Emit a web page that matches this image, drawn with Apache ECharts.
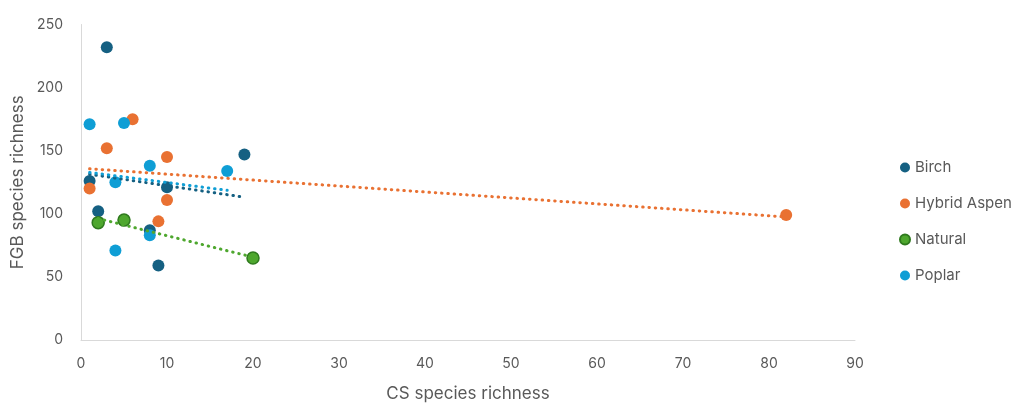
<!DOCTYPE html>
<html><head><meta charset="utf-8">
<script src="https://cdn.jsdelivr.net/npm/echarts@6/dist/echarts.min.js"></script>
<style>html,body{margin:0;padding:0;background:#fff;overflow:hidden}#c{width:1015px;height:407px}</style>
</head><body><div id="c"></div>
<script>
const seriesNames = ['Birch', 'Hybrid Aspen', 'Natural', 'Poplar'];
const birchX = [3, 1, 2, 8, 9, 10, 19];
const birchY = [232, 126, 102, 87, 59, 121, 147];
const aspenX = [6, 3, 10, 1, 10, 9, 82];
const aspenY = [175, 152, 145, 120, 111, 94, 99];
const naturalX = [2, 5, 20];
const naturalY = [93, 95, 65];
const poplarX = [1, 5, 8, 17, 4, 4, 8];
const poplarY = [171, 172, 138, 134, 125, 71, 83];
const xTicks = [0, 10, 20, 30, 40, 50, 60, 70, 80, 90];
const yTicks = [0, 50, 100, 150, 200, 250];

const colors = ['#156082', '#E97132', '#4EA72E', '#0F9ED5'];
const borders = ['#156082', '#E97132', '#2f7a1e', '#0F9ED5'];
const xs = [birchX, aspenX, naturalX, poplarX];
const ys = [birchY, aspenY, naturalY, poplarY];

function pairs(x, y) { return x.map((v, i) => [v, y[i]]); }
function trend(x, y) {
  const n = x.length;
  const mx = x.reduce((a, b) => a + b, 0) / n;
  const my = y.reduce((a, b) => a + b, 0) / n;
  let sxx = 0, sxy = 0;
  for (let i = 0; i < n; i++) { sxx += (x[i] - mx) ** 2; sxy += (x[i] - mx) * (y[i] - my); }
  const b = sxy / sxx, a = my - b * mx;
  const x0 = Math.min(...x), x1 = Math.max(...x);
  return [[x0, a + b * x0], [x1, a + b * x1]];
}

const series = [];
seriesNames.forEach((name, i) => {
  series.push({
    name: name, type: 'scatter', data: pairs(xs[i], ys[i]), symbolSize: 12, z: 2,
    itemStyle: { color: colors[i], borderColor: borders[i], borderWidth: i === 2 ? 1.5 : 0, opacity: 1 }
  });
});
seriesNames.forEach((name, i) => {
  series.push({
    name: name + ' trend', type: 'line', data: trend(xs[i], ys[i]), showSymbol: false, symbol: 'none', z: 3,
    silent: true,
    lineStyle: { color: colors[i], width: 3, type: [0.5, 5.8], cap: 'round' }
  });
});

const txt = '#595959';
const font = 'Inter, "Noto Sans", sans-serif';
const chart = echarts.init(document.getElementById('c'), null, { renderer: 'canvas', width: 1015, height: 407 });
chart.setOption({
  animation: false,
  backgroundColor: '#ffffff',
  textStyle: { fontFamily: font },
  grid: { left: 81, width: 774, top: 24.5, height: 319, containLabel: false },
  legend: {
    data: seriesNames, orient: 'vertical', left: 899, top: 160, itemGap: 21, padding: 0,
    icon: 'circle', itemWidth: 10, itemHeight: 10,
    textStyle: { color: txt, fontSize: 15, fontFamily: font }
  },
  xAxis: {
    type: 'value', min: xTicks[0], max: xTicks[xTicks.length - 1], interval: 10,
    name: 'CS species richness', nameLocation: 'middle', nameGap: 45,
    nameTextStyle: { color: txt, fontSize: 17, fontFamily: font },
    axisLine: { show: true, lineStyle: { color: '#d9d9d9', width: 1 } },
    axisTick: { show: false }, splitLine: { show: false },
    axisLabel: { color: txt, fontSize: 14, margin: 17 }
  },
  yAxis: {
    type: 'value', min: yTicks[0], max: yTicks[yTicks.length - 1], interval: 50,
    name: 'FGB species richness', nameLocation: 'middle', nameGap: 54,
    nameTextStyle: { color: txt, fontSize: 17, fontFamily: font },
    axisLine: { show: true, lineStyle: { color: '#d9d9d9', width: 1 } },
    axisTick: { show: false }, splitLine: { show: false },
    axisLabel: { color: txt, fontSize: 14, margin: 18 }
  },
  series: series
});
</script></body></html>
